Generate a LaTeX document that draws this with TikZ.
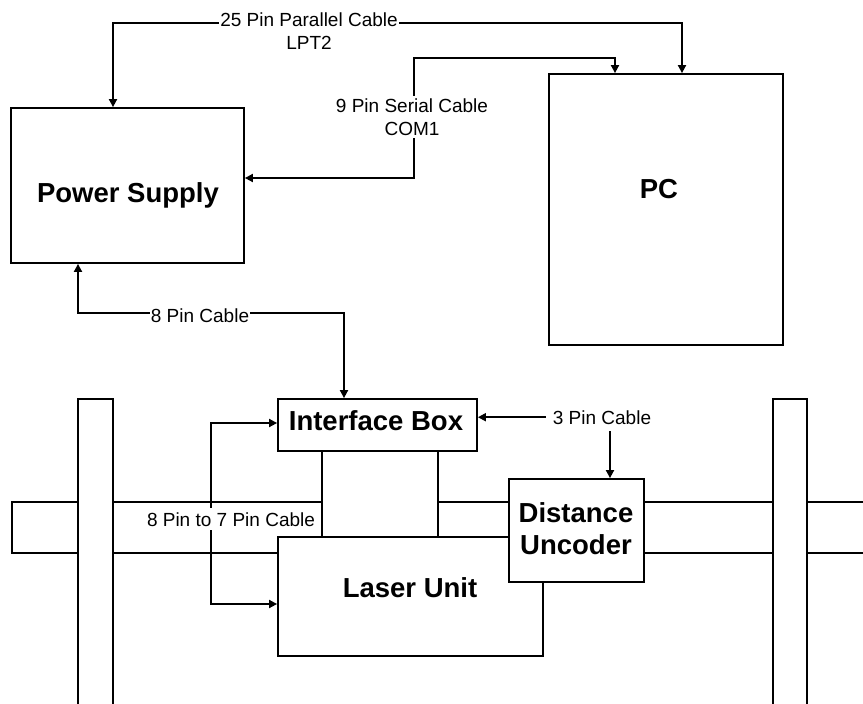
\documentclass[tikz,border=0pt]{standalone}
\usepackage{fontspec}
\setmainfont{Liberation Sans}
\usetikzlibrary{arrows.meta,calc}
\begin{document}
\begin{tikzpicture}[x=1pt,y=-1pt,
  line width=1.8pt,
  blk/.style={draw, fill=white, inner sep=0pt},
  big/.style={font=\fontsize{27.5}{32}\selectfont\bfseries, align=center, inner sep=0pt},
  lbl/.style={font=\fontsize{19}{23}\selectfont, fill=white, inner sep=3pt, align=center},
  conn/.style={{Triangle[length=8pt,width=8pt]}-{Triangle[length=8pt,width=8pt]}},
  one/.style={-{Triangle[length=8pt,width=8pt]}}
]
\useasboundingbox (0,0) rectangle (863,704);

% rail and posts
\draw[fill=white] (12,502) rectangle (880,553);
\draw[fill=white] (78,399) rectangle (113,712);
\draw[fill=white] (773,399) rectangle (807,712);
% stem between interface box and laser unit
\draw[fill=white] (322,451) rectangle (438,537);

% boxes
\node[blk, minimum width=199pt, minimum height=52pt] (IB) at (377.5,425) {};
\node[blk, minimum width=265pt, minimum height=119pt] (LU) at (410.5,596.5) {};
\node[blk, minimum width=135pt, minimum height=103pt] (DU) at (576.5,530.5) {};
\node[blk, minimum width=233pt, minimum height=155pt] (PS) at (127.5,185.5) {};
\node[blk, minimum width=234pt, minimum height=271pt] (PC) at (666,209.5) {};

% box texts
\node[big, anchor=base] at (128,202) {Power Supply};
\node[big, anchor=base] at (659,198) {PC};
\node[big, anchor=base] at (376,430) {Interface Box};
\node[big, anchor=base] at (410,597) {Laser Unit};
\node[big] at (576,529) {Distance\\Uncoder};

% coordinates of bends
\coordinate (p1) at (682,23);
\coordinate (p2) at (113,23);
\coordinate (s1) at (615,58);
\coordinate (s2) at (414,58);
\coordinate (s3) at (414,178);
\coordinate (c8a) at (78,313);
\coordinate (c8b) at (344,313);
\coordinate (c87a) at (211,423);
\coordinate (c87b) at (211,604);
\coordinate (c3) at (610,0);

% connectors
\draw[conn] (PC.north -| p1) -- (p1) -- (p2) -- (PS.north -| p2);
\draw[conn] (PC.north -| s1) -- (s1) -- (s2) -- (s3) -- (PS.east |- s3);
\draw[conn] (PS.south -| c8a) -- (c8a) -- (c8b) -- (IB.north -| c8b);
\draw[conn] (IB.west |- c87a) -- (c87a) -- (c87b) -- (LU.west |- c87b);

% labels
\node[lbl, inner xsep=1pt] at (309,31.5) {25 Pin Parallel Cable\\LPT2};
\node[lbl] at (412,117) {9 Pin Serial Cable\\COM1};
\node[lbl, anchor=base, inner xsep=1pt] at (200,322) {8 Pin Cable};
\node[lbl, anchor=base, inner sep=4pt] at (231,526) {8 Pin to 7 Pin Cable};
\node[lbl, anchor=base, fill=none, inner sep=6pt] (L3) at (602,424) {3 Pin Cable};
\draw[one] (L3.west) -- (IB.east |- L3.west);
\draw[one] (L3.south -| c3) -- (DU.north -| c3);
\end{tikzpicture}
\end{document}
